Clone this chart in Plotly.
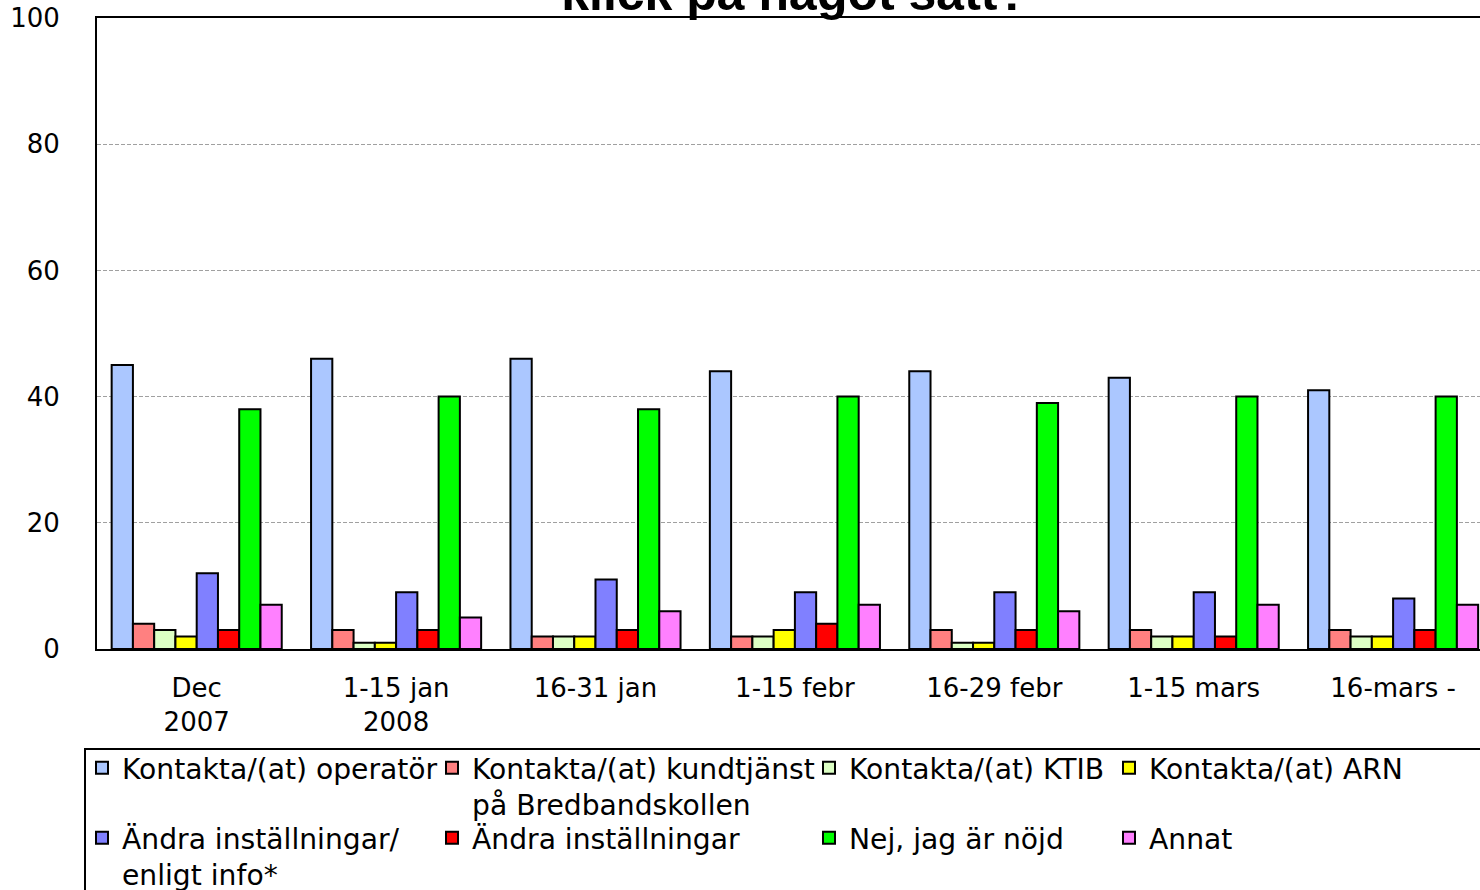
import plotly.graph_objects as go

categories = ["Dec<br>2007", "1-15 jan<br>2008", "16-31 jan", "1-15 febr",
              "16-29 febr", "1-15 mars", "16-mars -"]

series_names = [
    "Kontakta/(at) operatör",
    "Kontakta/(at) kundtjänst<br>på Bredbandskollen",
    "Kontakta/(at) KTIB",
    "Kontakta/(at) ARN",
    "Ändra inställningar/<br>enligt info*",
    "Ändra inställningar",
    "Nej, jag är nöjd",
    "Annat",
]

operator = [45, 46, 46, 44, 44, 43, 41]
kundtjanst = [4, 3, 2, 2, 3, 3, 3]
ktib = [3, 1, 2, 2, 1, 2, 2]
arn = [2, 1, 2, 3, 1, 2, 2]
andra_info = [12, 9, 11, 9, 9, 9, 8]
andra = [3, 3, 3, 4, 3, 2, 3]
nojd = [38, 40, 38, 40, 39, 40, 40]
annat = [7, 5, 6, 7, 6, 7, 7]

series_values = [operator, kundtjanst, ktib, arn, andra_info, andra, nojd, annat]
colors = ["#abc7ff", "#ff8080", "#dcffc4", "#ffff00",
          "#8080ff", "#ff0000", "#00ff00", "#ff80ff"]

y_ticks = [0, 20, 40, 60, 80, 100]
title_text = "Har du gjort något efter ditt<br>klick på något sätt?"

W, H = 1480, 890
L, T, B = 97, 18, 241
plot_w = W - L
plot_h = H - T - B
cat_px = 199.4

def px_to_paper_x(px):
    return (px - L) / plot_w

def px_to_paper_y(py):
    return (H - B - py) / plot_h

fig = go.Figure()
legend_ids = []
for i, (name, vals, col) in enumerate(zip(series_names, series_values, colors)):
    lid = "legend" if i == 0 else f"legend{i+1}"
    legend_ids.append(lid)
    fig.add_trace(go.Bar(
        x=categories, y=vals, name=name,
        marker=dict(color=col, line=dict(color="black", width=2)),
        legend=lid,
    ))

legend_font = dict(family="DejaVu Sans", size=28.2, color="black")
col_px = [82, 432, 809, 1109]
row_px = [743, 813]
layout_legends = {}
for i, lid in enumerate(legend_ids):
    c = i % 4
    r = i // 4
    layout_legends[lid] = dict(
        x=px_to_paper_x(col_px[c]), y=px_to_paper_y(row_px[r]),
        xanchor="left", yanchor="top", orientation="v",
        font=legend_font, bgcolor="rgba(0,0,0,0)", borderwidth=0,
        valign="top", itemclick=False, itemdoubleclick=False,
    )

fig.update_layout(
    width=W, height=H,
    margin=dict(l=L, r=0, t=T, b=B, pad=0, autoexpand=False),
    paper_bgcolor="white", plot_bgcolor="white",
    barmode="group", bargap=0.147, bargroupgap=0,
    showlegend=True,
    **layout_legends,
)

fig.update_xaxes(
    range=[-0.5, -0.5 + plot_w / cat_px],
    showline=True, linecolor="black", linewidth=2, mirror=True,
    ticks="", showgrid=False,
    tickfont=dict(family="DejaVu Sans", size=26, color="black"),
    ticklabelstandoff=15,
)
fig.update_yaxes(
    range=[0, 100], tickvals=y_ticks,
    showline=True, linecolor="black", linewidth=2, mirror=False,
    ticks="", showgrid=True, gridcolor="#a0a0a0", gridwidth=1, griddash="4px,2px",
    zeroline=False,
    tickfont=dict(family="DejaVu Sans", size=26, color="black"),
    ticklabelstandoff=30,
)

# legend frame
fig.add_shape(type="rect", xref="paper", yref="paper",
              x0=px_to_paper_x(85), x1=px_to_paper_x(1500),
              y0=px_to_paper_y(905), y1=px_to_paper_y(749),
              line=dict(color="black", width=2), fillcolor="rgba(0,0,0,0)")

# chart title (mostly outside the visible canvas, as in the reference)
fig.add_annotation(
    text=title_text, xref="paper", yref="paper",
    x=px_to_paper_x(795), y=px_to_paper_y(-39),
    xanchor="center", yanchor="middle", showarrow=False,
    font=dict(family="Liberation Sans", size=50, color="black", weight="bold"),
)

fig.write_html(
    "out.html",
    config={"displayModeBar": False, "staticPlot": True},
    post_script=(
        "document.documentElement.style.margin='0';"
        "document.body.style.margin='0';"
        "document.documentElement.style.overflow='hidden';"
        "document.body.style.overflow='hidden';"
    ),
)
